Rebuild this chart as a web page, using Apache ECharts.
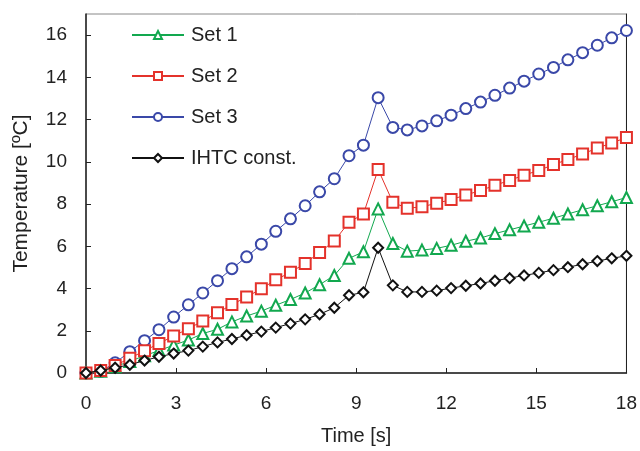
<!DOCTYPE html>
<html>
<head>
<meta charset="utf-8">
<script src="https://cdn.jsdelivr.net/npm/echarts@6/dist/echarts.min.js"></script>
<style>
html, body { margin: 0; padding: 0; background: #fff; }
#main { width: 640px; height: 451px; }
</style>
</head>
<body>
<div id="main"></div>
<script>
var timeList = [0, 0.49, 0.97, 1.46, 1.95, 2.43, 2.92, 3.41, 3.89, 4.38, 4.86, 5.35, 5.84, 6.32, 6.81, 7.30, 7.78, 8.27, 8.76, 9.24,
    9.73, 10.22, 10.70, 11.19, 11.68, 12.16, 12.65, 13.14, 13.62, 14.11, 14.59, 15.08, 15.57, 16.05, 16.54, 17.03, 17.51, 18.0];
var set1List = [0, 0.08, 0.3, 0.55, 0.82, 1.06, 1.32, 1.56, 1.87, 2.07, 2.42, 2.7, 2.93, 3.21, 3.48, 3.79, 4.18, 4.62, 5.43, 5.74,
    7.77, 6.13, 5.77, 5.82, 5.9, 6.05, 6.24, 6.39, 6.6, 6.78, 6.96, 7.14, 7.33, 7.53, 7.73, 7.92, 8.11, 8.31];
var set2List = [0, 0.12, 0.35, 0.7, 1.05, 1.4, 1.75, 2.1, 2.46, 2.85, 3.24, 3.6, 3.99, 4.41, 4.77, 5.19, 5.71, 6.25, 7.14, 7.53,
    9.64, 8.08, 7.8, 7.87, 8.04, 8.21, 8.43, 8.64, 8.89, 9.12, 9.37, 9.59, 9.87, 10.11, 10.37, 10.65, 10.89, 11.15];
var set3List = [0, 0.08, 0.48, 1.01, 1.53, 2.05, 2.65, 3.23, 3.79, 4.37, 4.94, 5.5, 6.1, 6.71, 7.3, 7.92, 8.58, 9.2, 10.29, 10.79,
    13.04, 11.63, 11.51, 11.7, 11.94, 12.21, 12.52, 12.83, 13.15, 13.49, 13.82, 14.16, 14.47, 14.83, 15.17, 15.52, 15.87, 16.22];
var ihtcList = [0, 0.12, 0.25, 0.39, 0.59, 0.77, 0.92, 1.06, 1.25, 1.45, 1.61, 1.79, 1.96, 2.15, 2.34, 2.54, 2.78, 3.09, 3.68, 3.82,
    5.93, 4.15, 3.84, 3.84, 3.9, 4.02, 4.13, 4.24, 4.37, 4.49, 4.62, 4.74, 4.87, 5.01, 5.15, 5.3, 5.43, 5.55];
var seriesNames = ['Set 1', 'Set 2', 'Set 3', 'IHTC const.'];

function pairs(ys) {
    var out = [];
    for (var i = 0; i < timeList.length; i++) {
        out.push([timeList[i], ys[i]]);
    }
    return out;
}

function makeSeries(name, ys, symbol, color, size, z) {
    return {
        name: name,
        type: 'line',
        data: pairs(ys),
        symbol: symbol,
        symbolSize: size,
        z: z,
        lineStyle: { color: color, width: 1 },
        itemStyle: { color: color, borderColor: color, borderWidth: 2 }
    };
}

var font = 'Liberation Sans, Arial, sans-serif';
var dom = document.getElementById('main');
var myChart = echarts.init(dom);
var option = {
    animation: false,
    textStyle: { fontFamily: font },
    legend: {
        orient: 'vertical',
        left: 131,
        top: 25,
        padding: 0,
        itemWidth: 52,
        itemHeight: 10,
        itemGap: 21,
        data: seriesNames,
        textStyle: { fontSize: 20, color: '#222', fontFamily: font, padding: [0, 0, 0, 2] }
    },
    grid: {
        left: 86,
        right: 13,
        top: 14,
        bottom: 75,
        show: true,
        borderColor: '#888',
        borderWidth: 1
    },
    xAxis: {
        type: 'value',
        min: 0,
        max: 18,
        interval: 3,
        name: 'Time [s]',
        nameLocation: 'middle',
        nameGap: 53,
        nameTextStyle: { fontSize: 20, color: '#222', fontFamily: font },
        axisLine: { lineStyle: { color: '#222', width: 1.5 } },
        axisTick: { inside: true, length: 5, lineStyle: { color: '#222' } },
        axisLabel: { fontSize: 19, color: '#222', margin: 21, fontFamily: font },
        splitLine: { show: false }
    },
    yAxis: [{
        type: 'value',
        min: 0,
        max: 17,
        interval: 2,
        name: 'Temperature [ºC]',
        nameLocation: 'middle',
        nameGap: 54,
        nameTextStyle: { fontSize: 21, color: '#222', fontFamily: font },
        axisLine: { lineStyle: { color: '#222', width: 1.5 } },
        axisTick: { inside: true, length: 5, lineStyle: { color: '#222' } },
        axisLabel: { fontSize: 19, color: '#222', margin: 19, fontFamily: font, showMaxLabel: false },
        splitLine: { show: false }
    }, {
        type: 'value',
        position: 'right',
        min: 0,
        max: 17,
        axisLine: { show: true, lineStyle: { color: '#222', width: 1 } },
        axisTick: { show: false },
        axisLabel: { show: false },
        splitLine: { show: false }
    }],
    series: [
        makeSeries(seriesNames[2], set3List, 'emptyCircle', '#3a48a8', 11, 2),
        makeSeries(seriesNames[0], set1List, 'emptyTriangle', '#12a84f', 11, 3),
        makeSeries(seriesNames[1], set2List, 'emptyRect', '#e4322b', 11, 4),
        makeSeries(seriesNames[3], ihtcList, 'emptyDiamond', '#111111', 10, 5)
    ]
};
myChart.setOption(option, true);
</script>
</body>
</html>
